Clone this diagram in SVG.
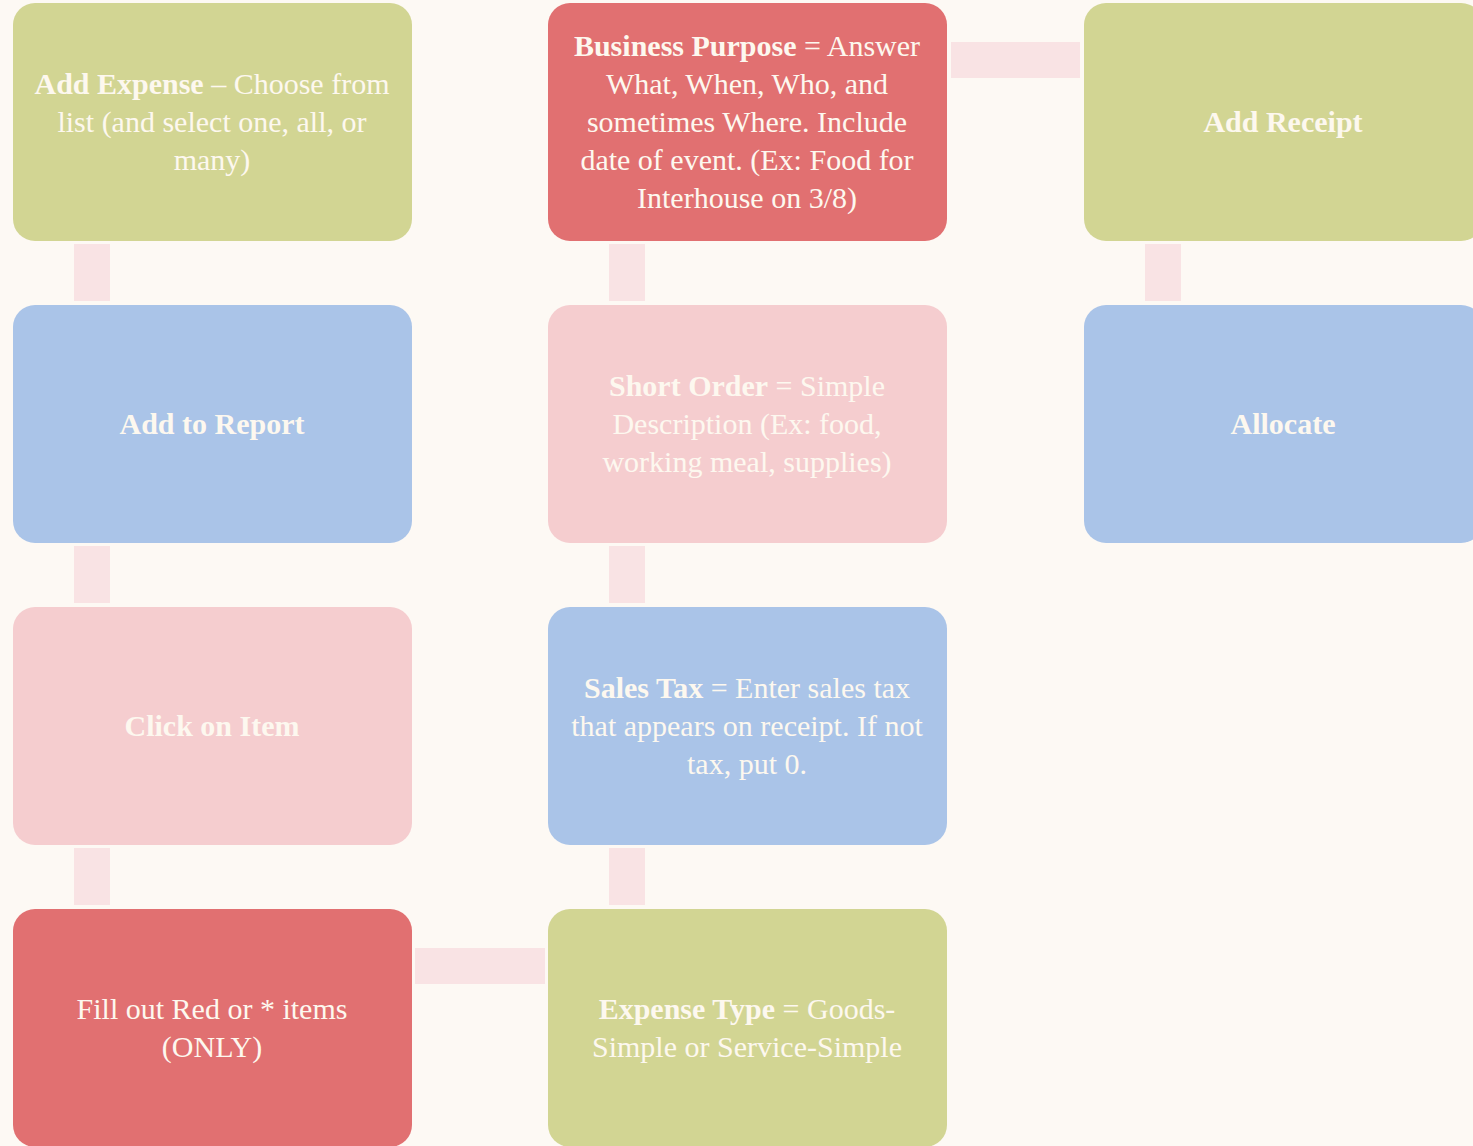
<svg xmlns="http://www.w3.org/2000/svg" width="1473" height="1146" viewBox="0 0 1473 1146">
<style>
.bg{fill:#fdf9f4}
.box{rx:22px;ry:22px}
.green{fill:#d2d593}
.red{fill:#e17071}
.pink{fill:#f5cdcf}
.blue{fill:#aac4e8}
.conn{fill:#f9e3e4}
text{font-family:"Liberation Serif","Times New Roman",serif;font-size:30px;fill:#fdf8ef;text-anchor:middle}
.b{font-weight:bold}
</style>
<rect class="bg" x="0" y="0" width="1473" height="1146"/>
<g id="connectors">
<rect class="conn" x="74" y="244" width="36" height="57"/>
<rect class="conn" x="74" y="546" width="36" height="57"/>
<rect class="conn" x="74" y="848" width="36" height="57"/>
<rect class="conn" x="609" y="244" width="36" height="57"/>
<rect class="conn" x="609" y="546" width="36" height="57"/>
<rect class="conn" x="609" y="848" width="36" height="57"/>
<rect class="conn" x="1145" y="244" width="36" height="57"/>
<rect class="conn" x="951" y="42" width="129" height="36"/>
<rect class="conn" x="415" y="948" width="130" height="36"/>
</g>
<g id="add-expense">
<rect class="box green" x="13" y="3" width="399" height="238"/>
<text x="212" y="94"><tspan class="b">Add Expense</tspan> – Choose from</text>
<text x="212" y="132">list (and select one, all, or</text>
<text x="212" y="170">many)</text>
</g>
<g id="business-purpose">
<rect class="box red" x="548" y="3" width="399" height="238"/>
<text x="747" y="56"><tspan class="b">Business Purpose</tspan> = Answer</text>
<text x="747" y="94">What, When, Who, and</text>
<text x="747" y="132">sometimes Where. Include</text>
<text x="747" y="170">date of event. (Ex: Food for</text>
<text x="747" y="208">Interhouse on 3/8)</text>
</g>
<g id="add-receipt">
<rect class="box green" x="1084" y="3" width="399" height="238"/>
<text class="b" x="1283" y="132">Add Receipt</text>
</g>
<g id="add-to-report">
<rect class="box blue" x="13" y="305" width="399" height="238"/>
<text class="b" x="212" y="434">Add to Report</text>
</g>
<g id="short-order">
<rect class="box pink" x="548" y="305" width="399" height="238"/>
<text x="747" y="396"><tspan class="b">Short Order</tspan> = Simple</text>
<text x="747" y="434">Description (Ex: food,</text>
<text x="747" y="472">working meal, supplies)</text>
</g>
<g id="allocate">
<rect class="box blue" x="1084" y="305" width="399" height="238"/>
<text class="b" x="1283" y="434">Allocate</text>
</g>
<g id="click-on-item">
<rect class="box pink" x="13" y="607" width="399" height="238"/>
<text class="b" x="212" y="736">Click on Item</text>
</g>
<g id="sales-tax">
<rect class="box blue" x="548" y="607" width="399" height="238"/>
<text x="747" y="698"><tspan class="b">Sales Tax</tspan> = Enter sales tax</text>
<text x="747" y="736">that appears on receipt. If not</text>
<text x="747" y="774">tax, put 0.</text>
</g>
<g id="fill-out">
<rect class="box red" x="13" y="909" width="399" height="238"/>
<text x="212" y="1019">Fill out Red or * items</text>
<text x="212" y="1057">(ONLY)</text>
</g>
<g id="expense-type">
<rect class="box green" x="548" y="909" width="399" height="238"/>
<text x="747" y="1019"><tspan class="b">Expense Type</tspan> = Goods-</text>
<text x="747" y="1057">Simple or Service-Simple</text>
</g>
</svg>
